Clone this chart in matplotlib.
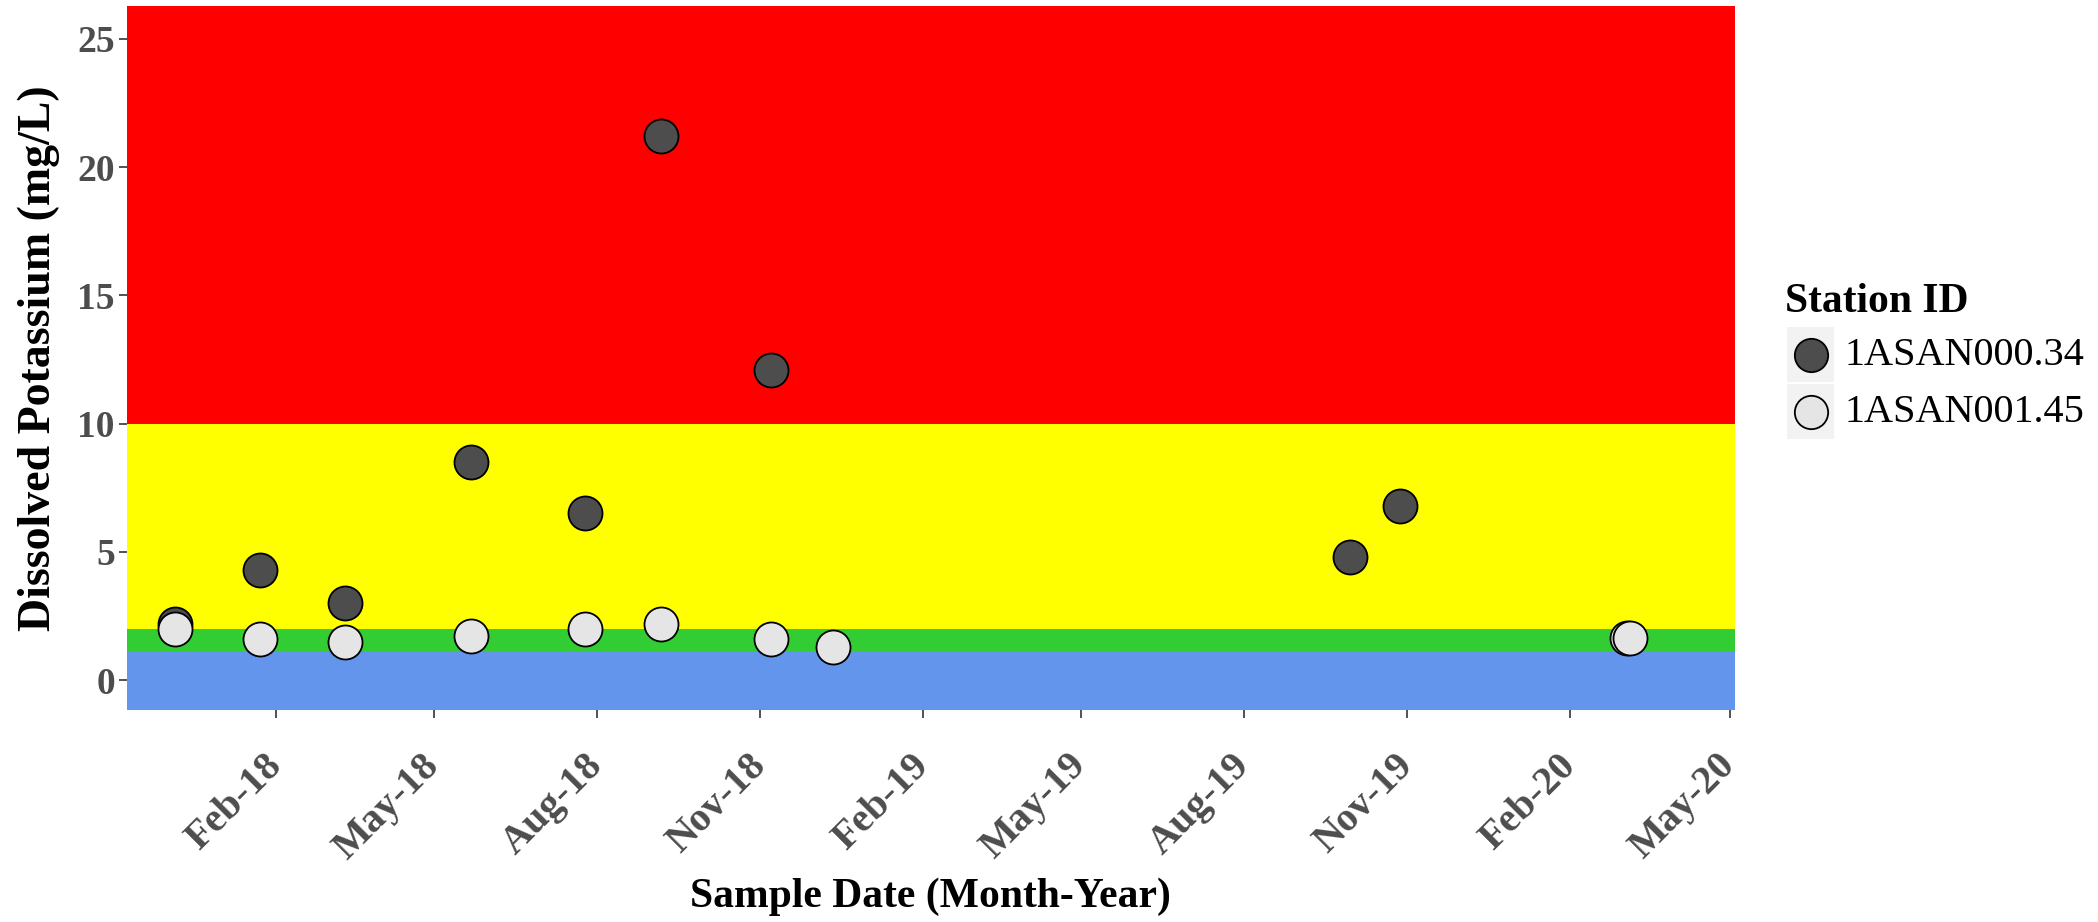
import matplotlib
matplotlib.use("Agg")
import matplotlib.pyplot as plt
import matplotlib.dates as mdates
from matplotlib.patches import Rectangle
from matplotlib.lines import Line2D
import pandas as pd

# dissolved potassium by station (mg/L)
station_ids = ["1ASAN000.34", "1ASAN001.45"]
station_fills = ["#4d4d4d", "#e5e5e5"]

dates_000 = ["2017-12-06", "2018-01-23", "2018-03-12", "2018-05-22", "2018-07-25",
             "2018-09-06", "2018-11-07", "2019-09-30", "2019-10-28"]
potassium_000 = [2.2, 4.3, 3.0, 8.5, 6.5, 21.2, 12.1, 4.8, 6.8]

dates_001 = ["2017-12-06", "2018-01-23", "2018-03-12", "2018-05-22", "2018-07-25",
             "2018-09-06", "2018-11-07", "2018-12-12", "2020-03-04", "2020-03-06"]
potassium_001 = [2.0, 1.6, 1.5, 1.7, 2.0, 2.2, 1.6, 1.3, 1.65, 1.65]

# background condition bands
band_edges = [-1.17, 1.1, 2.0, 10.0, 26.29]
band_colors = ["#6495ed", "#32cd32", "#ffff00", "#ff0000"]

y_ticks = [0, 5, 10, 15, 20, 25]
x_start, x_end = "2017-11-09", "2020-05-04"

plt.rcParams["font.family"] = ["Liberation Serif", "DejaVu Serif"]
plt.rcParams["font.weight"] = "bold"

fig = plt.figure(figsize=(20.98, 9.22), dpi=100)
ax = fig.add_axes([0.0607, 0.2299, 0.7663, 0.7639])

for lo, hi, col in zip(band_edges[:-1], band_edges[1:], band_colors):
    ax.axhspan(lo, hi, color=col, lw=0, zorder=0)

ax.scatter(pd.to_datetime(dates_000), potassium_000, s=600, c=station_fills[0],
           edgecolors="black", linewidths=1.3, zorder=3)
ax.scatter(pd.to_datetime(dates_001), potassium_001, s=600, c=station_fills[1],
           edgecolors="black", linewidths=1.3, zorder=4)

ax.set_ylim(band_edges[0], band_edges[-1])
ax.set_xlim(pd.Timestamp(x_start), pd.Timestamp(x_end))
ax.set_yticks(y_ticks)
ax.xaxis.set_major_locator(mdates.MonthLocator(bymonth=[2, 5, 8, 11]))
ax.xaxis.set_major_formatter(mdates.DateFormatter("%b-%y"))

for sp in ax.spines.values():
    sp.set_visible(False)

ax.tick_params(axis="both", length=6, width=1.2, color="#333333", labelcolor="#4d4d4d")
ax.tick_params(axis="y", labelsize=27, pad=3)
ax.tick_params(axis="x", labelsize=29, pad=30)
plt.setp(ax.get_xticklabels(), rotation=45, ha="right", va="center", rotation_mode="anchor")

ax.set_ylabel("Dissolved Potassium (mg/L)", fontsize=33, fontweight="bold", color="black")
ax.yaxis.set_label_coords(-0.042, 0.5)
fig.text(0.4437, 0.027, "Sample Date (Month-Year)", fontsize=30, ha="center", va="center")

# legend drawn by hand so the keys get their grey squares
fig.text(1785 / 2098, 1 - 312 / 922, "Station ID", fontsize=30, ha="left", va="baseline")
key_tops = [327, 384]
for i, (sid, fill) in enumerate(zip(station_ids, station_fills)):
    top = key_tops[i]
    fig.add_artist(Rectangle((1786.7 / 2098, 1 - (top + 55) / 922), 47.6 / 2098, 55 / 922,
                             transform=fig.transFigure, facecolor="#f2f2f2", edgecolor="none"))
    cy = 1 - (top + 28) / 922
    fig.add_artist(Line2D([1810.5 / 2098], [cy], transform=fig.transFigure, marker="o",
                          markersize=24, markerfacecolor=fill, markeredgecolor="black",
                          markeredgewidth=1.3, linestyle="none"))
    fig.text(1844 / 2098, cy, sid, fontsize=29, fontweight="normal", ha="left", va="center")

fig.savefig("out.png", dpi=100, facecolor="white")
